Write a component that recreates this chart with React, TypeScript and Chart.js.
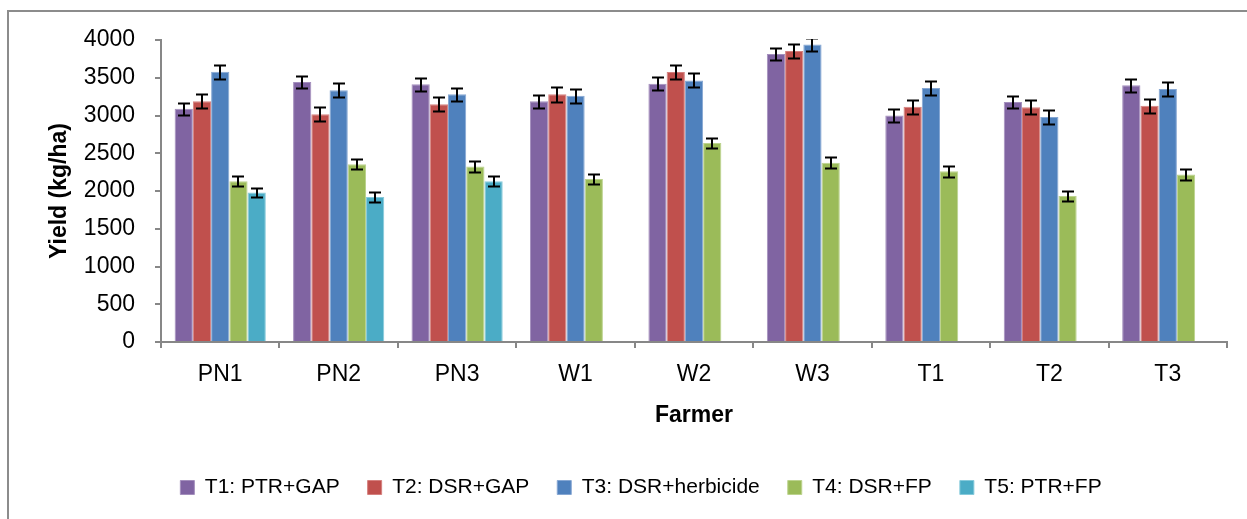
import React, { useEffect, useRef } from 'react';
import { Chart, registerables } from 'chart.js';

Chart.register(...registerables);

const categories = ['PN1', 'PN2', 'PN3', 'W1', 'W2', 'W3', 'T1', 'T2', 'T3'];
const seriesNames = ['T1: PTR+GAP', 'T2: DSR+GAP', 'T3: DSR+herbicide', 'T4: DSR+FP', 'T5: PTR+FP'];
const t1Values = [3090, 3445, 3415, 3190, 3420, 3815, 3000, 3180, 3400];
const t2Values = [3190, 3015, 3150, 3280, 3575, 3855, 3115, 3110, 3130];
const t3Values = [3580, 3335, 3280, 3260, 3465, 3940, 3365, 2980, 3350];
const t4Values = [2130, 2355, 2325, 2160, 2635, 2375, 2260, 1935, 2220];
const t5Values = [1980, 1920, 2130, null, null, null, null, null, null];
const t1Errors = [82, 82, 84, 87, 87, 82, 84, 84, 84];
const t2Errors = [93, 93, 93, 96, 93, 96, 93, 96, 93];
const t3Errors = [93, 93, 89, 91, 93, 89, 91, 91, 91];
const t4Errors = [67, 69, 71, 69, 67, 69, 69, 67, 71];
const t5Errors = [60, 67, 64, 0, 0, 0, 0, 0, 0];
const yTicks = [0, 500, 1000, 1500, 2000, 2500, 3000, 3500, 4000];

const colors = ['#8064A2', '#C0504D', '#4F81BD', '#9BBB59', '#4BACC6'];
const edgeColors = ['#A48FBD', '#D5807E', '#86A7D3', '#BCD38E', '#86CADB'];
const FONT = '"Liberation Sans", Arial, sans-serif';
const AXIS = '#878787';

const errorBarPlugin = {
  id: 'errorBars',
  afterDatasetsDraw(chart: any) {
    const ctx = chart.ctx;
    const area = chart.chartArea;
    const yScale = chart.scales.y;
    ctx.save();
    ctx.beginPath();
    ctx.rect(area.left, area.top - 1, area.right - area.left, area.bottom - area.top + 1);
    ctx.clip();
    ctx.strokeStyle = '#000000';
    ctx.lineWidth = 2;
    chart.data.datasets.forEach((ds: any, i: number) => {
      const meta = chart.getDatasetMeta(i);
      meta.data.forEach((bar: any, j: number) => {
        const v = ds.data[j];
        if (v == null) return;
        const e = ds.errors[j];
        const yTop = Math.round(yScale.getPixelForValue(v + e)) + 0.5;
        const yBot = Math.round(yScale.getPixelForValue(v - e)) + 0.5;
        const x = Math.round(bar.x);
        const half = 6;
        ctx.beginPath();
        ctx.moveTo(x, yTop);
        ctx.lineTo(x, yBot);
        ctx.moveTo(x - half, yTop);
        ctx.lineTo(x + half, yTop);
        ctx.moveTo(x - half, yBot);
        ctx.lineTo(x + half, yBot);
        ctx.stroke();
      });
    });
    ctx.restore();
  },
};

const frameBorderPlugin = {
  id: 'frameBorder',
  beforeDraw(chart: any) {
    const ctx = chart.ctx;
    ctx.save();
    ctx.fillStyle = '#ffffff';
    ctx.fillRect(0, 0, chart.width, chart.height);
    ctx.strokeStyle = '#8c8c8c';
    ctx.lineWidth = 2;
    ctx.beginPath();
    ctx.moveTo(8, chart.height);
    ctx.lineTo(8, 11);
    ctx.lineTo(chart.width, 11);
    ctx.stroke();
    ctx.restore();
  },
};

export default function App() {
  const canvasRef = useRef<HTMLCanvasElement | null>(null);

  useEffect(() => {
    const canvas = canvasRef.current;
    if (!canvas) return;
    const values = [t1Values, t2Values, t3Values, t4Values, t5Values];
    const errors = [t1Errors, t2Errors, t3Errors, t4Errors, t5Errors];
    const chart = new Chart(canvas, {
      type: 'bar',
      data: {
        labels: categories,
        datasets: seriesNames.map((name, i) => ({
          label: name,
          data: values[i],
          errors: errors[i],
          backgroundColor: colors[i],
          borderColor: edgeColors[i],
          borderWidth: 1,
          categoryPercentage: 0.77,
          barPercentage: 1,
        })) as any,
      },
      options: {
        responsive: false,
        animation: false,
        layout: { padding: { top: 40, right: 0, left: 35, bottom: 11 } },
        plugins: {
          legend: {
            position: 'bottom',
            labels: {
              boxWidth: 14,
              boxHeight: 14,
              padding: 28,
              color: '#000',
              font: { family: FONT, size: 21 },
            },
          },
          tooltip: { enabled: false },
        },
        scales: {
          x: {
            grid: {
              display: true,
              drawOnChartArea: false,
              drawTicks: true,
              tickLength: 6,
              color: AXIS,
              lineWidth: 2,
              offset: true,
            },
            border: { display: true, color: AXIS, width: 2 },
            ticks: { color: '#000', padding: 13, font: { family: FONT, size: 23 } },
            title: {
              display: true,
              text: 'Farmer',
              color: '#000',
              font: { family: FONT, size: 23, weight: 'bold', lineHeight: 1.2 },
              padding: { top: 0, bottom: 20 },
            },
            afterFit: (s: any) => { s.height = 107; },
          },
          y: {
            min: 0,
            max: 4000,
            afterBuildTicks: (s: any) => { s.ticks = yTicks.map((v) => ({ value: v })); },
            grid: {
              display: true,
              drawOnChartArea: false,
              drawTicks: true,
              tickLength: 6,
              color: AXIS,
              lineWidth: 2,
            },
            border: { display: true, color: AXIS, width: 2 },
            ticks: {
              color: '#000',
              padding: 20,
              font: { family: FONT, size: 23 },
              callback: (v: any) => String(v),
            },
            title: {
              display: true,
              text: 'Yield (kg/ha)',
              color: '#000',
              font: { family: FONT, size: 23, weight: 'bold', lineHeight: 1.2 },
              padding: { top: 11, bottom: 0 },
            },
            afterFit: (s: any) => { s.width = 126; },
          },
          yRight: {
            position: 'right',
            display: true,
            grid: { display: false },
            border: { display: false },
            ticks: { display: false },
            afterFit: (s: any) => { s.width = 20; },
          },
        },
      },
      plugins: [frameBorderPlugin, errorBarPlugin],
    });
    return () => chart.destroy();
  }, []);

  return (
    <div style={{ position: 'fixed', left: 0, top: 0, width: 1247, height: 519, overflow: 'hidden', background: '#fff' }}>
      <canvas
        ref={canvasRef}
        width={1247}
        height={519}
        style={{ position: 'absolute', left: 0, top: 0, width: 1247, height: 519 }}
      />
    </div>
  );
}
